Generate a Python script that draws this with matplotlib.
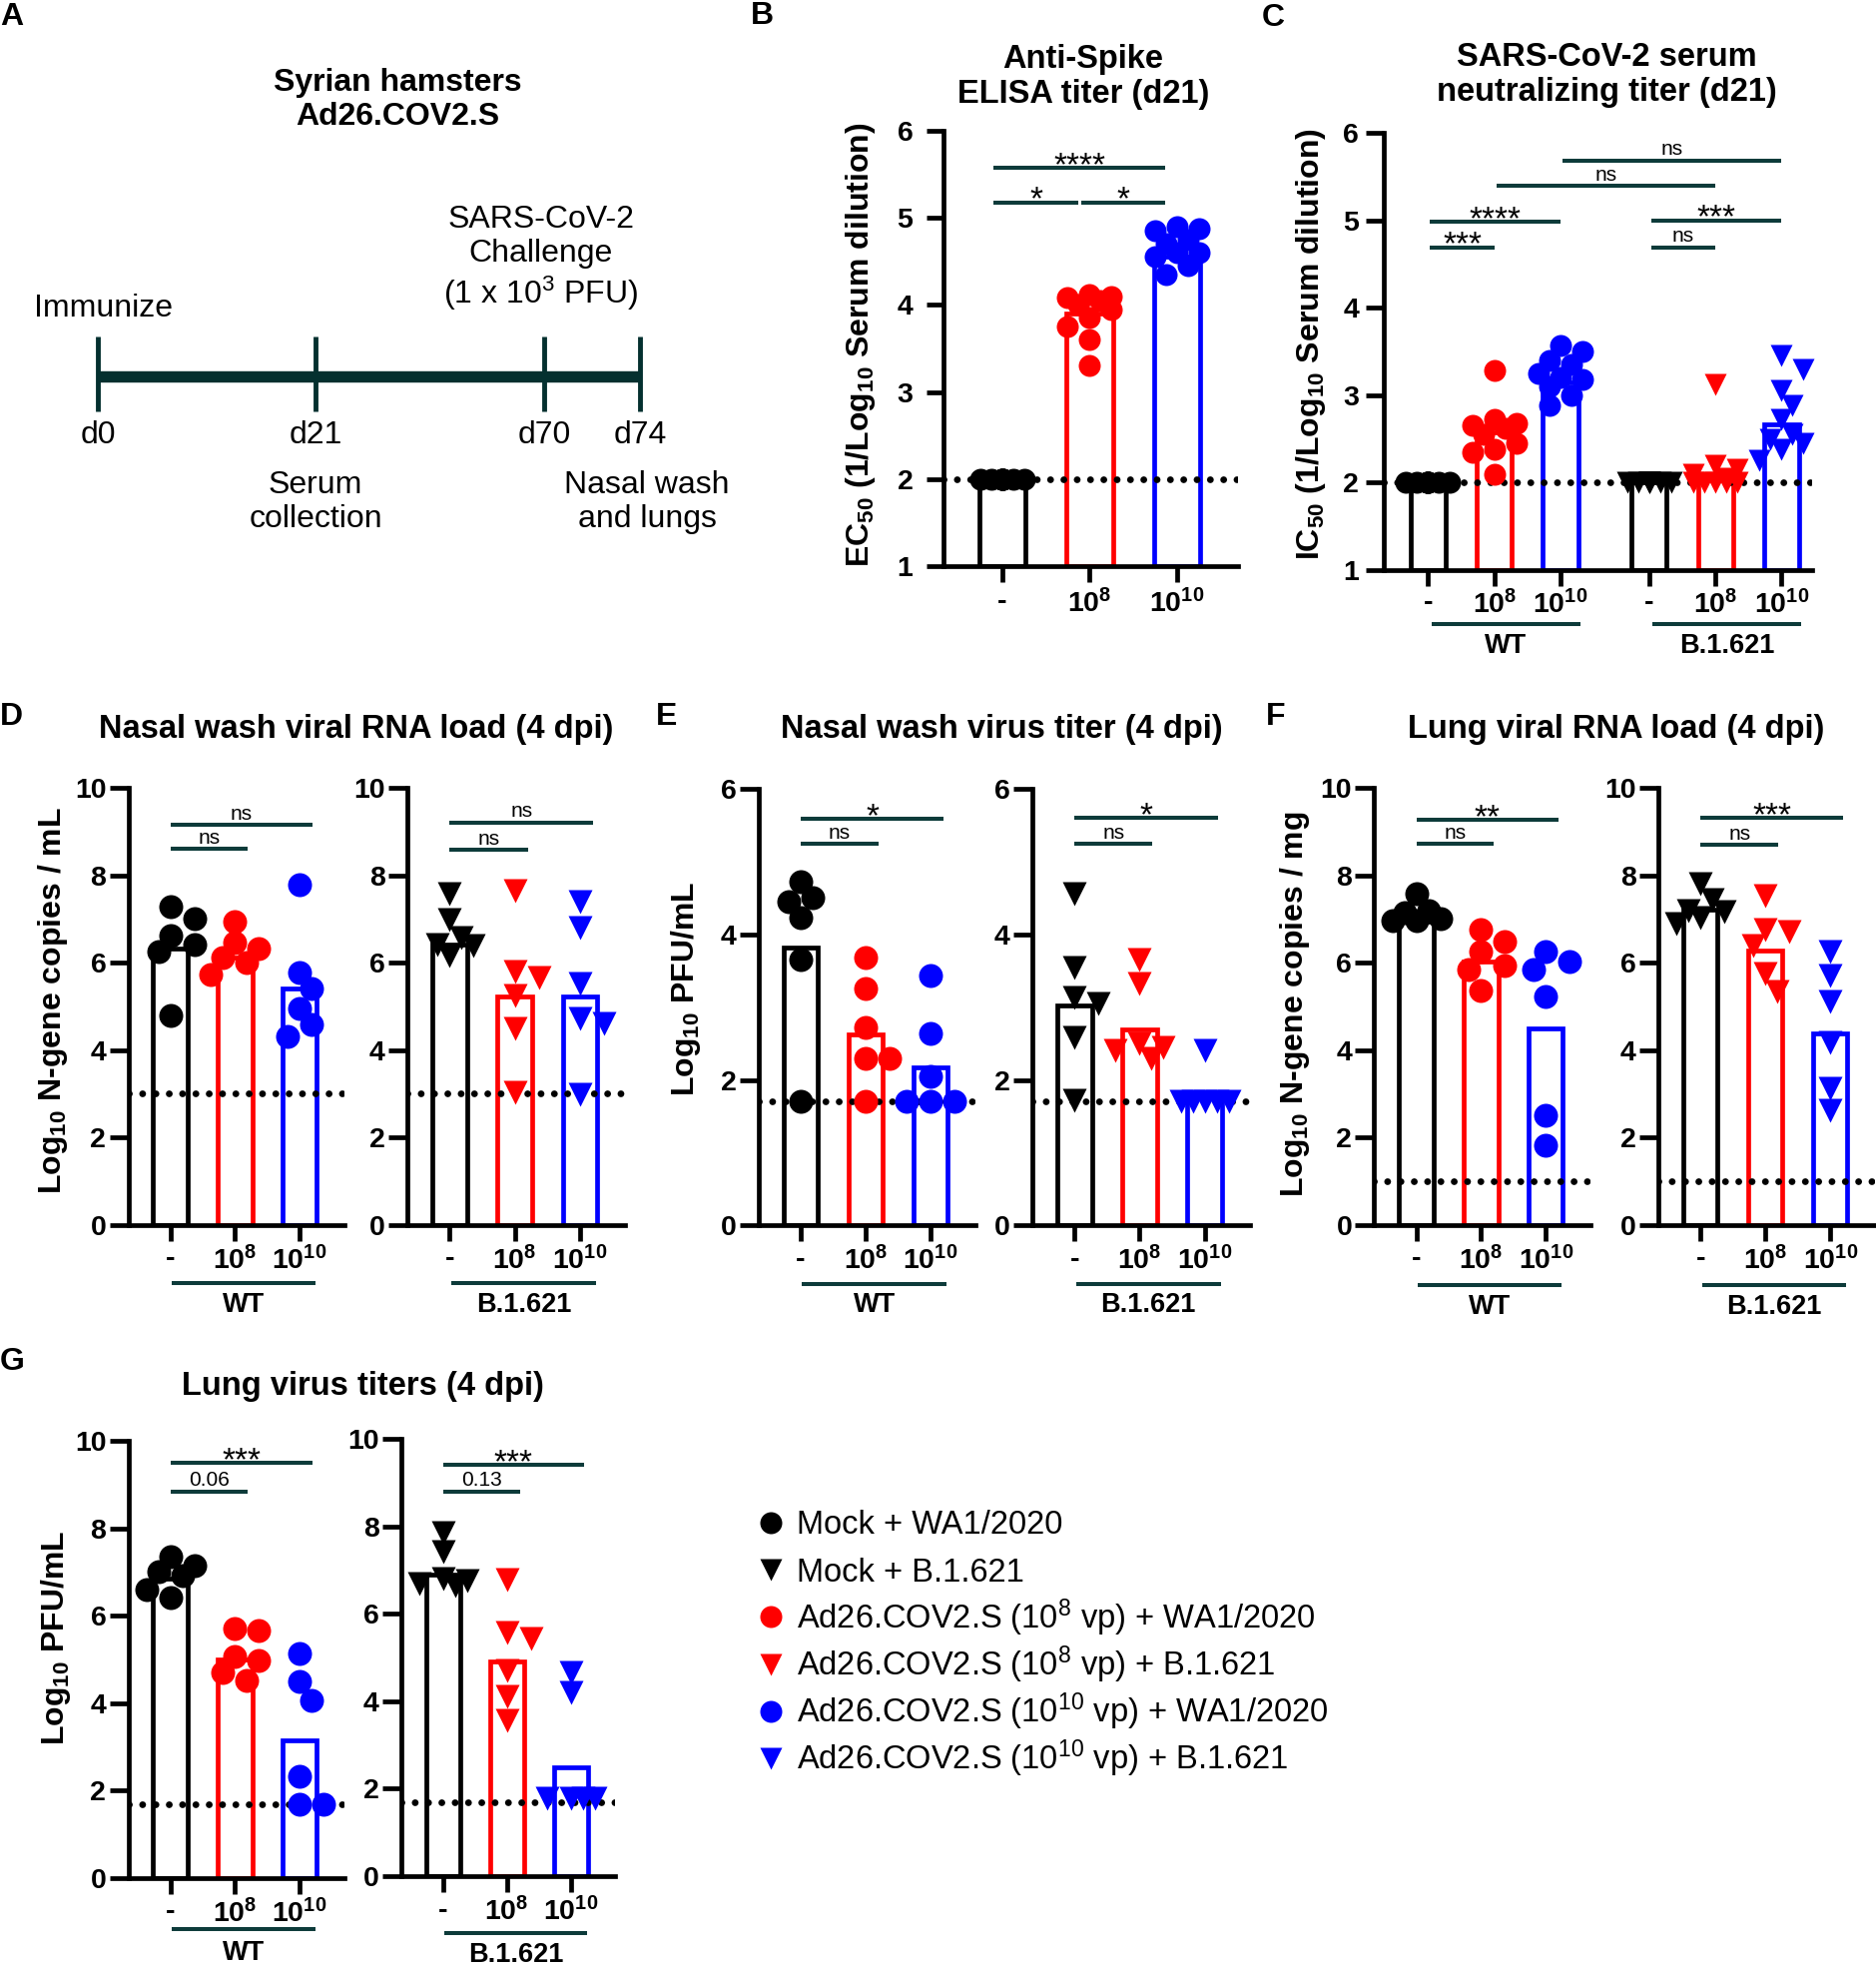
import numpy as np
import matplotlib
matplotlib.use("Agg")
import matplotlib.pyplot as plt
from matplotlib.transforms import blended_transform_factory, ScaledTranslation

W, H, DPI = 1879, 1968, 100

plt.rcParams["font.family"] = ["Liberation Sans", "DejaVu Sans"]
plt.rcParams["mathtext.default"] = "regular"

RED = "#ff0000"
BLUE = "#0000ff"
TEAL = "#0d3b3a"
LINE_DARK = "#04302f"
GROUP_COLORS = ["black", RED, BLUE]
AX_LW = 3.4
TICK_SIZE = 20.5

DOSES = ["-", "10$^{8}$", "10$^{10}$"]
VARIANTS = ["WT", "B.1.621"]

# ---------------- values ----------------
# A: study timeline
TIMELINE_LABELS = ["d0", "d21", "d70", "d74"]

# B: anti-Spike ELISA titer (log10 EC50), d21
B_MOCK = [2.0, 2.0, 2.0, 2.0, 2.0, 2.0, 2.0, 2.0, 2.0, 2.0]
B_LOW = [4.12, 4.1, 4.08, 4.05, 4.0, 3.95, 3.85, 3.75, 3.6, 3.3]
B_HIGH = [4.9, 4.88, 4.85, 4.75, 4.7, 4.6, 4.6, 4.55, 4.45, 4.35]
B_BARS = [2.0, 3.9, 4.55]
B_SIG = [(0, 2, 5.57, "****"), (0, 1, 5.18, "*"), (1, 2, 5.18, "*")]

# C: serum neutralizing titer (log10 IC50), d21
C_WT_MOCK = [2.0, 2.0, 2.0, 2.0, 2.0, 2.0, 2.0, 2.0, 2.0, 2.0]
C_WT_LOW = [3.28, 2.72, 2.68, 2.65, 2.62, 2.55, 2.45, 2.38, 2.35, 2.1]
C_WT_HIGH = [3.57, 3.5, 3.4, 3.35, 3.25, 3.2, 3.18, 3.1, 3.0, 2.88]
C_B_MOCK = [2.0, 2.0, 2.0, 2.0, 2.0, 2.0, 2.0, 2.0, 2.0, 2.0]
C_B_LOW = [3.12, 2.2, 2.15, 2.1, 2.05, 2.0, 2.0, 2.0, 2.0, 2.0]
C_B_HIGH = [3.45, 3.3, 3.05, 2.88, 2.72, 2.55, 2.5, 2.45, 2.38, 2.25]
C_BARS = [2.0, 2.57, 3.15, 2.0, 2.07, 2.67]
C_SIG = [(2, 5, 5.68, "ns"), (1, 4, 5.39, "ns"), (0, 2, 4.98, "****"),
         (0, 1, 4.69, "***"), (3, 5, 5.0, "***"), (3, 4, 4.69, "ns")]

# D: nasal wash viral RNA (log10 N-gene copies / mL)
D_WT = [[7.28, 7.0, 6.62, 6.42, 6.25, 4.8],
        [6.94, 6.46, 6.32, 6.11, 6.0, 5.72],
        [7.78, 5.77, 5.4, 4.94, 4.58, 4.32]]
D_WT_BARS = [6.32, 6.11, 5.4]
D_B = [[7.58, 6.99, 6.57, 6.42, 6.4, 6.15],
       [7.65, 5.79, 5.65, 5.24, 4.5, 3.03],
       [7.4, 6.8, 5.51, 4.73, 4.6, 2.99]]
D_B_BARS = [6.42, 5.22, 5.22]
D_LOD = 3.0
D_WT_SIG = [(0, 2, 9.15, "ns"), (0, 1, 8.6, "ns")]
D_B_SIG = [(0, 2, 9.2, "ns"), (0, 1, 8.58, "ns")]

# E: nasal wash virus titer (log10 PFU / mL)
E_WT = [[4.73, 4.51, 4.45, 4.23, 3.66, 1.7],
        [3.68, 3.26, 2.72, 2.3, 2.3, 1.7],
        [3.44, 2.64, 2.05, 1.7, 1.7, 1.7]]
E_WT_BARS = [3.82, 2.62, 2.17]
E_B = [[4.56, 3.54, 3.13, 3.05, 2.58, 1.72],
       [3.65, 3.33, 2.5, 2.45, 2.4, 2.3],
       [2.41, 1.7, 1.7, 1.7, 1.7, 1.7]]
E_B_BARS = [3.02, 2.69, 1.8]
E_LOD = 1.7
E_WT_SIG = [(0, 2, 5.59, "*"), (0, 1, 5.25, "ns")]
E_B_SIG = [(0, 2, 5.61, "*"), (0, 1, 5.25, "ns")]

# F: lung viral RNA (log10 N-gene copies / mg)
F_WT = [[7.58, 7.2, 7.15, 7.0, 6.95, 6.95],
        [6.76, 6.48, 6.25, 5.93, 5.84, 5.35],
        [6.25, 6.02, 5.84, 5.22, 2.5, 1.81]]
F_WT_BARS = [6.94, 6.02, 4.5]
F_B = [[7.81, 7.44, 7.2, 7.17, 7.03, 6.9],
       [7.54, 6.76, 6.71, 6.39, 5.74, 5.33],
       [6.25, 5.7, 5.1, 4.18, 3.12, 2.62]]
F_B_BARS = [7.21, 6.27, 4.37]
F_LOD = 1.0
F_WT_SIG = [(0, 2, 9.26, "**"), (0, 1, 8.71, "ns")]
F_B_SIG = [(0, 2, 9.31, "***"), (0, 1, 8.69, "ns")]

# G: lung virus titers (log10 PFU / mL)
G_WT = [[7.36, 7.14, 7.0, 6.91, 6.59, 6.41],
        [5.71, 5.67, 5.06, 4.97, 4.7, 4.52],
        [5.13, 4.5, 4.07, 2.32, 1.68, 1.68]]
G_WT_BARS = [6.84, 4.99, 3.15]
G_B = [[7.86, 7.41, 6.8, 6.75, 6.7, 6.65],
       [6.78, 5.56, 5.43, 4.71, 4.1, 3.56],
       [4.66, 4.21, 1.78, 1.78, 1.78, 1.78]]
G_B_BARS = [6.89, 4.9, 2.48]
G_LOD = 1.68
G_WT_SIG = [(0, 2, 9.5, "***"), (0, 1, 8.84, "0.06")]
G_B_SIG = [(0, 2, 9.41, "***"), (0, 1, 8.79, "0.13")]

LEGEND_LABELS = ["Mock + WA1/2020", "Mock + B.1.621",
                 "Ad26.COV2.S (10$^{8}$ vp) + WA1/2020",
                 "Ad26.COV2.S (10$^{8}$ vp) + B.1.621",
                 "Ad26.COV2.S (10$^{10}$ vp) + WA1/2020",
                 "Ad26.COV2.S (10$^{10}$ vp) + B.1.621"]
LEGEND_MARKERS = ["o", "v", "o", "v", "o", "v"]
LEGEND_COLORS = ["black", "black", RED, RED, BLUE, BLUE]


fig = plt.figure(figsize=(W / DPI, H / DPI), dpi=DPI)

# overlay in pixel units for the schematic, titles and legend
ov = fig.add_axes([0, 0, 1, 1])
ov.set_xlim(0, W)
ov.set_ylim(H, 0)
ov.axis("off")
ov.patch.set_visible(False)


def add_axes_px(left, right, top, bottom):
    return fig.add_axes([left / W, 1 - bottom / H, (right - left) / W, (bottom - top) / H])


def px_shift(dy):
    return ScaledTranslation(0, dy / DPI, fig.dpi_scale_trans)


def swarm_x(ax, xc, vals, diam):
    """Push overlapping points sideways (pixel space), GraphPad-like scatter."""
    t = ax.transData
    ppu = t.transform((1, 0))[0] - t.transform((0, 0))[0]
    step = 0.5 * diam
    cands = [0.0, step, -step, 2 * step, -2 * step]
    placed, out = [], []
    for v in vals:
        yp = t.transform((xc, v))[1]
        best, best_d = 0.0, -1.0
        for c in cands:
            d = min((np.hypot(c - px, yp - py) for px, py in placed), default=np.inf)
            if d >= 0.8 * diam:
                best = c
                break
            if d > best_d:
                best, best_d = c, d
        placed.append((best, yp))
        out.append(xc + best / ppu)
    return out


def draw_panel(ax, xs, groups, bars, markers, ylim, yticks, lod, sig, sig_off, xlim,
               msize=24, ypad=2, xpad=4, ytick_len=14):
    ax.set_xlim(*xlim)
    ax.set_ylim(*ylim)
    ax.patch.set_visible(False)
    for s in ("top", "right"):
        ax.spines[s].set_visible(False)
    for s in ("left", "bottom"):
        ax.spines[s].set_linewidth(AX_LW)
    base = ylim[0]
    for k, (x, vals, h, mk) in enumerate(zip(xs, groups, bars, markers)):
        col = GROUP_COLORS[k % 3]
        ax.bar(x, h - base, bottom=base, width=0.53, facecolor="none",
               edgecolor=col, linewidth=AX_LW, zorder=2)
        ax.scatter(swarm_x(ax, x, vals, msize), vals, s=(msize * 0.72) ** 2,
                   marker=mk, color=col, linewidths=0, zorder=4, clip_on=False)
    ax.axhline(lod, color="black", lw=4.9, linestyle=(0, (0.01, 1.95)),
               dash_capstyle="round", zorder=3)
    ax.set_yticks(yticks, labels=[f"{t:g}" for t in yticks],
                  fontsize=TICK_SIZE, fontweight="bold")
    labels = (DOSES * 2)[:len(xs)]
    ax.set_xticks(xs, labels=labels, fontsize=TICK_SIZE, fontweight="bold")
    ax.tick_params(axis="y", length=ytick_len, width=AX_LW, pad=ypad)
    ax.tick_params(axis="x", length=11.5, width=AX_LW, pad=xpad)
    for i, j, y, lab in sig:
        x0, x1 = xs[i] + sig_off[0], xs[j] + sig_off[1]
        ax.plot([x0, x1], [y, y], color=TEAL, lw=2.9, solid_capstyle="butt",
                zorder=5, clip_on=False)
        star = lab.strip("*") == ""
        ax.annotate(lab, ((x0 + x1) / 2, y), xytext=(0, -5 if star else 4),
                    textcoords="offset points", ha="center", va="baseline",
                    fontsize=24 if star else 15, zorder=5, annotation_clip=False)


def group_label(ax, x0, x1, text, line_dy, text_dy):
    tr = blended_transform_factory(ax.transData, ax.transAxes)
    ax.plot([x0, x1], [0, 0], color=TEAL, lw=2.9, solid_capstyle="butt",
            clip_on=False, transform=tr + px_shift(-line_dy))
    ax.text((x0 + x1) / 2, 0, text, transform=tr + px_shift(-text_dy),
            ha="center", va="center", fontsize=19.5, fontweight="bold")


X3 = [0, 1, 2]
XL3 = (-0.65, 2.69)
Y10 = [0, 2, 4, 6, 8, 10]
CIRC3 = ["o", "o", "o"]
TRI3 = ["v", "v", "v"]

# ---------------- A: timeline schematic ----------------
A_SIZE = 23
TL_X = [98, 316, 545, 641]
ov.plot([TL_X[0], TL_X[-1]], [377, 377], color=LINE_DARK, lw=8.2, solid_capstyle="butt")
ov.vlines(TL_X, 337, 412, color=LINE_DARK, lw=3.5)
for lab, x in zip(TIMELINE_LABELS, TL_X):
    ov.text(x, 436, lab, ha="center", va="center", fontsize=A_SIZE)
ov.text(398, 100, "Syrian hamsters\nAd26.COV2.S", ha="center", va="center",
        fontsize=A_SIZE, fontweight="bold")
ov.text(542, 259, "SARS-CoV-2\nChallenge\n(1 x 10$^{3}$ PFU)", ha="center", va="center",
        fontsize=A_SIZE)
ov.text(104, 309, "Immunize", ha="center", va="center", fontsize=A_SIZE)
ov.text(316, 503, "Serum\ncollection", ha="center", va="center", fontsize=A_SIZE)
ov.text(648, 503, "Nasal wash\nand lungs", ha="center", va="center", fontsize=A_SIZE)

# ---------------- B ----------------
axB = add_axes_px(945, 1240, 131, 567)
draw_panel(axB, X3, [B_MOCK, B_LOW, B_HIGH], B_BARS, CIRC3, (1, 6), [1, 2, 3, 4, 5, 6],
           2.0, B_SIG, (-0.1, -0.13), (-0.674, 2.70), msize=22, ypad=10, xpad=5,
           ytick_len=12)

# ---------------- C ----------------
XC = [0, 1, 2, 3.34, 4.34, 5.34]
axC = add_axes_px(1386, 1815, 133, 571)
draw_panel(axC, XC, [C_WT_MOCK, C_WT_LOW, C_WT_HIGH, C_B_MOCK, C_B_LOW, C_B_HIGH],
           C_BARS, CIRC3 + TRI3, (1, 6), [1, 2, 3, 4, 5, 6], 2.0, C_SIG, (0.03, 0.0),
           (-0.67, 5.8), msize=22, ypad=5, xpad=3, ytick_len=13)
group_label(axC, XC[0] + 0.05, XC[2] + 0.3, VARIANTS[0], 54, 76)
group_label(axC, XC[3] + 0.05, XC[5] + 0.3, VARIANTS[1], 54, 76)

# ---------------- D-G ----------------
PANELS = [
    # pixel rect (left, right, top, bottom), values, bars, markers, ylim, yticks, LOD, sig, variant, label offsets
    ((128.5, 344.8, 789, 1226.6), D_WT, D_WT_BARS, CIRC3, (0, 10), Y10, D_LOD, D_WT_SIG, VARIANTS[0], (58, 80)),
    ((408, 626, 789, 1226.6), D_B, D_B_BARS, TRI3, (0, 10), Y10, D_LOD, D_B_SIG, VARIANTS[1], (58, 80)),
    ((759.6, 977, 790.5, 1227), E_WT, E_WT_BARS, CIRC3, (0, 6), [0, 2, 4, 6], E_LOD, E_WT_SIG, VARIANTS[0], (59, 80)),
    ((1034, 1251.5, 790.5, 1227), E_B, E_B_BARS, TRI3, (0, 6), [0, 2, 4, 6], E_LOD, E_B_SIG, VARIANTS[1], (59, 80)),
    ((1376.4, 1593, 789, 1226.6), F_WT, F_WT_BARS, CIRC3, (0, 10), Y10, F_LOD, F_WT_SIG, VARIANTS[0], (60, 82)),
    ((1661, 1878, 789, 1226.6), F_B, F_B_BARS, TRI3, (0, 10), Y10, F_LOD, F_B_SIG, VARIANTS[1], (60, 82)),
    ((128.5, 344.8, 1443, 1880.7), G_WT, G_WT_BARS, CIRC3, (0, 10), Y10, G_LOD, G_WT_SIG, VARIANTS[0], (51, 75)),
    ((402, 616, 1441, 1879), G_B, G_B_BARS, TRI3, (0, 10), Y10, G_LOD, G_B_SIG, VARIANTS[1], (57, 79)),
]
for rect, data, bars, mks, ylim, yt, lod, sig, var, (ldy, tdy) in PANELS:
    ax = add_axes_px(*rect)
    draw_panel(ax, X3, data, bars, mks, ylim, yt, lod, sig, (0.0, 0.2), XL3)
    group_label(ax, 0.02, 2.25, var, ldy, tdy)

# ---------------- titles, panel letters, y labels ----------------
TITLE = dict(ha="center", va="center", fontsize=23.5, fontweight="bold")
ov.text(1085, 77, "Anti-Spike\nELISA titer (d21)", **TITLE)
ov.text(1609, 75, "SARS-CoV-2 serum\nneutralizing titer (d21)", **TITLE)
ov.text(357, 731, "Nasal wash viral RNA load (4 dpi)", **TITLE)
ov.text(1003, 731, "Nasal wash virus titer (4 dpi)", **TITLE)
ov.text(1619, 731, "Lung viral RNA load (4 dpi)", **TITLE)
ov.text(363, 1389, "Lung virus titers (4 dpi)", **TITLE)

for letter, x, y in [("A", 0, 25), ("B", 752, 24), ("C", 1264, 26), ("D", 0, 726),
                     ("E", 657, 726), ("F", 1268, 726), ("G", 0, 1372)]:
    ov.text(x, y, letter, ha="left", va="baseline", fontsize=23, fontweight="bold")

YLAB = dict(ha="center", va="center", rotation=90, fontsize=23, fontweight="bold")
ov.text(862, 345, "EC$_{50}$ (1/Log$_{10}$ Serum dilution)", **YLAB)
ov.text(1313, 344, "IC$_{50}$ (1/Log$_{10}$ Serum dilution)", **YLAB)
ov.text(53, 1002, "Log$_{10}$ N-gene copies / mL", **YLAB)
ov.text(687, 990, "Log$_{10}$ PFU/mL", **YLAB)
ov.text(1297, 1006, "Log$_{10}$ N-gene copies / mg", **YLAB)
ov.text(56, 1640, "Log$_{10}$ PFU/mL", **YLAB)

# ---------------- legend ----------------
for k, (lab, mk, col) in enumerate(zip(LEGEND_LABELS, LEGEND_MARKERS, LEGEND_COLORS)):
    y = 1525 + k * 47.2
    ov.scatter([772], [y], s=(22 * 0.72) ** 2, marker=mk, color=col, linewidths=0)
    ov.text(798, y + 11.5, lab, ha="left", va="baseline", fontsize=23.5)

fig.savefig("out.png", dpi=DPI)
